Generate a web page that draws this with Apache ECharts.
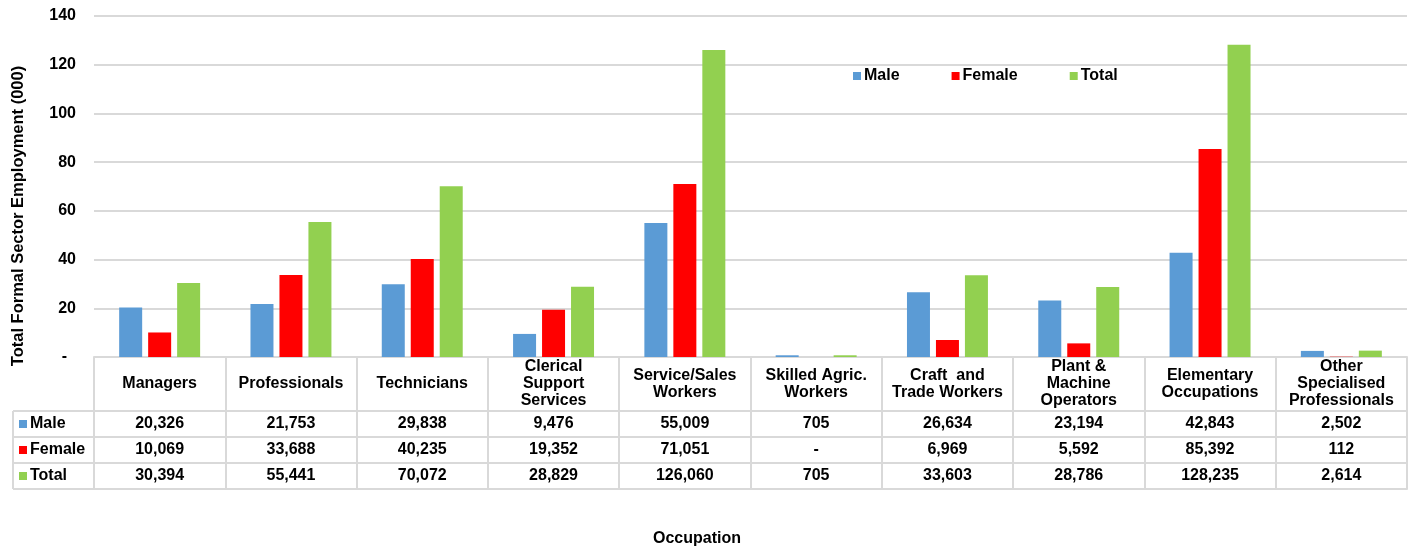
<!DOCTYPE html>
<html>
<head>
<meta charset="utf-8">
<script src="https://cdn.jsdelivr.net/npm/echarts@6/dist/echarts.min.js"></script>
<style>
    html, body { margin: 0; padding: 0; background: #fff; }
    #chart { width: 1412px; height: 551px; }
</style>
</head>
<body>
<div id="chart"></div>
<script>
const categories = ['Managers', 'Professionals', 'Technicians', 'Clerical\nSupport\nServices', 'Service/Sales\nWorkers',
    'Skilled Agric.\nWorkers', 'Craft  and\nTrade Workers', 'Plant &\nMachine\nOperators', 'Elementary\nOccupations',
    'Other\nSpecialised\nProfessionals'];
const male = [20326, 21753, 29838, 9476, 55009, 705, 26634, 23194, 42843, 2502];
const female = [10069, 33688, 40235, 19352, 71051, 0, 6969, 5592, 85392, 112];
const total = [30394, 55441, 70072, 28829, 126060, 705, 33603, 28786, 128235, 2614];
const yTicks = [0, 20, 40, 60, 80, 100, 120, 140];

const colors = ['#5b9bd5', '#ff0000', '#92d050'];
const font = "'Liberation Sans', Arial, Helvetica, sans-serif";
const lineColor = '#d9d9d9';

// layout (px)
const gridLeft = 94, gridRight = 5, gridTop = 16, gridBottom = 194;
const zeroY = 551 - gridBottom;
const headerH = 54, rowH = 26;

function fmt(v) {
    if (v === 0) return '-';
    return String(v).replace(/\B(?=(\d{3})+(?!\d))/g, ',');
}

// one x axis per table row, its line is the row's top border
function rowAxis(name, vals, color, idx) {
    return {
        type: 'category',
        gridIndex: 0,
        position: 'bottom',
        offset: headerH + rowH * idx,
        data: categories,
        name: '{sq| }{t|' + name + '}',
        nameLocation: 'start',
        nameGap: 75,
        nameTextStyle: {
            align: 'left',
            padding: [rowH, 0, 0, 0],
            fontFamily: font, fontSize: 16, fontWeight: 'bold', color: '#000',
            rich: {
                sq: { width: 8, height: 8, backgroundColor: color },
                t: { fontFamily: font, fontSize: 16, fontWeight: 'bold', color: '#000', padding: [0, 0, 0, 3] }
            }
        },
        axisLine: { show: true, lineStyle: { color: lineColor, width: 2 } },
        axisTick: { show: false },
        axisLabel: {
            interval: 0,
            margin: rowH / 2,
            verticalAlign: 'middle',
            fontFamily: font, fontSize: 16, fontWeight: 'bold', color: '#000',
            formatter: (v, i) => fmt(vals[i])
        },
        splitLine: { show: false }
    };
}

const chart = echarts.init(document.getElementById('chart'));

let tableTop = zeroY + headerH;
let leftLines = [];
for (let i = 0; i <= 3; i++) {
    leftLines.push({
        type: 'line',
        shape: { x1: 13, y1: tableTop + rowH * i, x2: gridLeft, y2: tableTop + rowH * i },
        style: { stroke: lineColor, lineWidth: 2 }
    });
}
leftLines.push({
    type: 'line',
    shape: { x1: 13, y1: tableTop, x2: 13, y2: tableTop + rowH * 3 },
    style: { stroke: lineColor, lineWidth: 2 }
});

let option = {
    animation: false,
    color: colors,
    textStyle: { fontFamily: font },
    grid: {
        left: gridLeft, right: gridRight, top: gridTop, bottom: gridBottom,
        outerBoundsMode: 'none'
    },
    legend: {
        data: ['Male', 'Female', 'Total'],
        left: 853,
        top: 68,
        padding: 0,
        icon: 'rect',
        itemWidth: 8,
        itemHeight: 8,
        itemGap: 52,
        textStyle: { fontFamily: font, fontSize: 16, fontWeight: 'bold', color: '#000', padding: [0, 0, 0, -2] }
    },
    xAxis: [
        {
            type: 'category',
            data: categories,
            position: 'bottom',
            axisLine: { show: true, lineStyle: { color: lineColor, width: 2 } },
            axisTick: { show: true, length: headerH + rowH * 3, lineStyle: { color: lineColor, width: 2 } },
            axisLabel: {
                interval: 0,
                margin: 27,
                verticalAlign: 'middle',
                lineHeight: 17,
                fontFamily: font, fontSize: 16, fontWeight: 'bold', color: '#000'
            }
        },
        rowAxis('Male', male, colors[0], 0),
        rowAxis('Female', female, colors[1], 1),
        rowAxis('Total', total, colors[2], 2),
        {
            type: 'category',
            data: categories,
            position: 'bottom',
            offset: headerH + rowH * 3,
            axisLine: { show: true, lineStyle: { color: lineColor, width: 2 } },
            axisTick: { show: false },
            axisLabel: { show: false }
        }
    ],
    yAxis: {
        type: 'value',
        min: yTicks[0],
        max: yTicks[yTicks.length - 1],
        interval: 20,
        axisLine: { show: false },
        axisTick: { show: false },
        axisLabel: {
            margin: 18,
            fontFamily: font, fontSize: 16, fontWeight: 'bold', color: '#000',
            formatter: v => v === 0 ? '-  ' : String(v)
        },
        splitLine: { lineStyle: { color: lineColor, width: 2 } }
    },
    series: [
        { name: 'Male', type: 'bar', barWidth: 23, barGap: '26%', data: male.map(v => v / 1000) },
        { name: 'Female', type: 'bar', barWidth: 23, barGap: '26%', data: female.map(v => v / 1000) },
        { name: 'Total', type: 'bar', barWidth: 23, barGap: '26%', data: total.map(v => v / 1000) }
    ],
    graphic: [
        {
            type: 'text',
            x: 18, y: 216,
            rotation: Math.PI / 2,
            style: {
                text: 'Total Formal Sector Employment (000)',
                fontFamily: font, fontSize: 16.5, fontWeight: 'bold', fill: '#000',
                align: 'center', verticalAlign: 'middle'
            }
        },
        {
            type: 'text',
            x: 697, y: 539,
            style: {
                text: 'Occupation',
                fontFamily: font, fontSize: 16, fontWeight: 'bold', fill: '#000',
                align: 'center', verticalAlign: 'middle'
            }
        }
    ].concat(leftLines)
};
chart.setOption(option);
</script>
</body>
</html>
